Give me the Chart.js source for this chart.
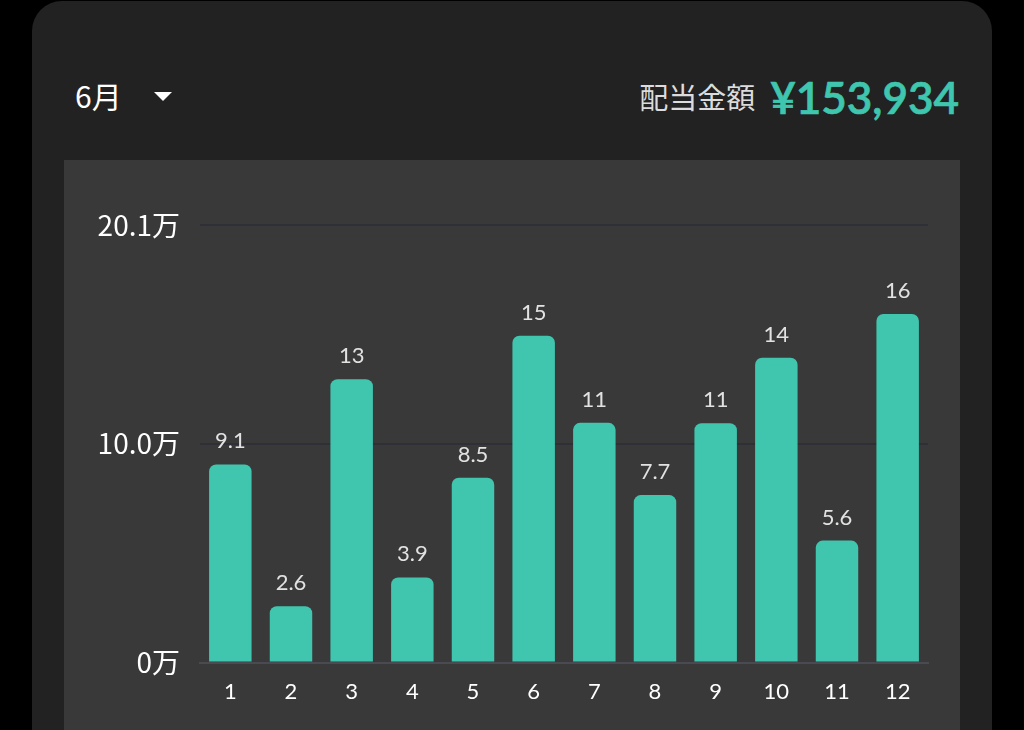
<!DOCTYPE html>
<html>
<head>
<meta charset="utf-8">
<script src="https://cdn.jsdelivr.net/npm/chart.js@4/dist/chart.umd.min.js"></script>
<style>
  html, body { margin: 0; padding: 0; background: #000; width: 1024px; height: 730px; overflow: hidden; }
  #card { position: absolute; left: 32px; top: 1px; width: 960px; height: 780px; background: #222222; border-radius: 30px; }
  #month { position: absolute; left: 75px; top: 73px; font-family: "Noto Sans CJK JP", sans-serif; font-size: 30px; color: #ffffff; line-height: 44px; }
  #caret { position: absolute; left: 154px; top: 92px; width: 0; height: 0; border-left: 9px solid transparent; border-right: 9px solid transparent; border-top: 9px solid #ffffff; }
  #title { position: absolute; right: 65px; top: 69px; height: 56px; display: flex; align-items: center; white-space: nowrap; }
  #title .lbl { font-family: "Noto Sans CJK JP", sans-serif; font-size: 29px; color: #dcdcdc; margin-right: 15px; position: relative; top: -1px; }
  #title .amt { font-family: Lato, sans-serif; font-weight: 600; font-size: 44px; color: #3fc6ae; -webkit-text-stroke: 0.7px #3fc6ae; }
  #panel { position: absolute; left: 64px; top: 160px; width: 896px; height: 570px; background: #393939; }
  #panel canvas { position: absolute; left: 0; top: 0; }
</style>
</head>
<body>
<div id="card"></div>
<div id="month">6月</div>
<div id="caret"></div>
<div id="title"><span class="lbl">配当金額</span><span class="amt">¥153,934</span></div>
<div id="panel"><canvas id="c" width="896" height="570"></canvas></div>
<script>
// Data (values in 万円)
const months = ['1','2','3','4','5','6','7','8','9','10','11','12'];
const dividends = [9.10, 2.59, 13.01, 3.91, 8.49, 15.01, 11.01, 7.69, 10.99, 14.00, 5.60, 16.01];
const valueLabels = ['9.1','2.6','13','3.9','8.5','15','11','7.7','11','14','5.6','16'];
const yTickValues = [0, 10.05, 20.1];
const yTickLabels = ['0万', '10.0万', '20.1万'];

const barColor = '#40c6af';

const valueLabelPlugin = {
  id: 'valueLabels',
  afterDatasetsDraw(chart) {
    const ctx = chart.ctx;
    const meta = chart.getDatasetMeta(0);
    ctx.save();
    ctx.font = '22px Lato, sans-serif';
    ctx.fillStyle = '#e2e2e2';
    ctx.textAlign = 'center';
    ctx.textBaseline = 'alphabetic';
    meta.data.forEach((bar, i) => {
      ctx.fillText(valueLabels[i], bar.x, bar.y - 16);
    });
    ctx.restore();
  }
};

new Chart(document.getElementById('c'), {
  type: 'bar',
  data: {
    labels: months,
    datasets: [{
      data: dividends,
      backgroundColor: barColor,
      borderWidth: 0,
      borderRadius: { topLeft: 7, topRight: 7, bottomLeft: 0, bottomRight: 0 },
      borderSkipped: false,
      barPercentage: 0.70,
      categoryPercentage: 1.0
    }]
  },
  options: {
    responsive: false,
    animation: false,
    events: [],
    layout: { padding: { top: 65, right: 32, bottom: 0, left: 0 } },
    plugins: { legend: { display: false }, tooltip: { enabled: false } },
    scales: {
      x: {
        grid: { display: false, drawTicks: false },
        border: { display: true, color: '#4a4a52', width: 2 },
        ticks: { color: '#ffffff', font: { family: 'Lato', size: 22 }, padding: 16, maxRotation: 0 },
        afterFit(scale) { scale.height = 67.5; }
      },
      y: {
        min: 0,
        max: 20.1,
        grid: { color: '#2f2f37', lineWidth: 2, drawTicks: false },
        border: { display: false },
        afterBuildTicks(scale) { scale.ticks = yTickValues.map(v => ({ value: v })); },
        ticks: {
          color: '#ffffff',
          font: { family: '"Noto Sans CJK JP"', size: 28 },
          padding: 20,
          callback(value, index) { return yTickLabels[index]; }
        },
        afterFit(scale) { scale.width = 136; }
      }
    }
  },
  plugins: [valueLabelPlugin]
});
</script>
</body>
</html>
